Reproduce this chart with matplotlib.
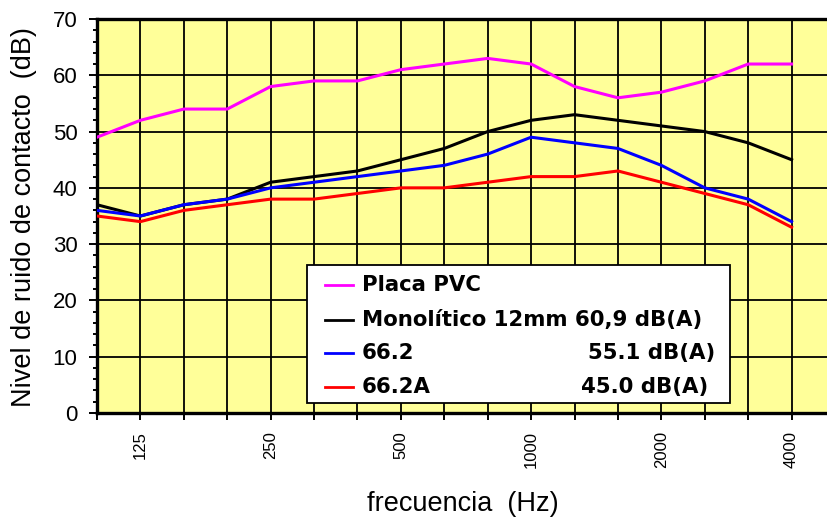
import numpy as np
import matplotlib.pyplot as plt
from matplotlib.ticker import MultipleLocator
from matplotlib.patches import Rectangle
from matplotlib.lines import Line2D

plt.rcParams['font.family'] = ['Liberation Sans', 'DejaVu Sans']

# third-octave bands (Hz)
freqs = [100, 125, 160, 200, 250, 315, 400, 500, 630, 800, 1000,
         1250, 1600, 2000, 2500, 3150, 4000]
labelled = [125, 250, 500, 1000, 2000, 4000]

# contact noise level (dB)
placa_pvc = [49, 52, 54, 54, 58, 59, 59, 61, 62, 63, 62, 58, 56, 57, 59, 62, 62]
monolitico = [37, 35, 37, 38, 41, 42, 43, 45, 47, 50, 52, 53, 52, 51, 50, 48, 45]
v66_2 = [36, 35, 37, 38, 40, 41, 42, 43, 44, 46, 49, 48, 47, 44, 40, 38, 34]
v66_2a = [35, 34, 36, 37, 38, 38, 39, 40, 40, 41, 42, 42, 43, 41, 39, 37, 33]

names = ["Placa PVC", "Monolítico 12mm 60,9 dB(A)", "66.2", "66.2A"]
dba = ["", "", "55.1 dB(A)", "45.0 dB(A)"]
colors = ['#ff00ff', '#000000', '#0000ff', '#ff0000']
data = [placa_pvc, monolitico, v66_2, v66_2a]

W, H = 828, 517
fig = plt.figure(figsize=(W/100, H/100), dpi=100)
ax = fig.add_axes([97/W, 104/H, 738/W, 394/H])
ax.set_facecolor('#ffff99')

x = np.arange(len(freqs))
for vals, col in zip(data, colors):
    ax.plot(x, vals, color=col, lw=2.2, zorder=3)

ax.set_xlim(0, 17)
ax.set_ylim(0, 70)
ax.set_xticks(x)
ax.set_xticklabels([str(f) if f in labelled else '' for f in freqs],
                   rotation=90, fontsize=12)
ax.yaxis.set_major_locator(MultipleLocator(10))
ax.yaxis.set_minor_locator(MultipleLocator(2))
ax.tick_params(axis='y', which='major', labelsize=16, length=6, width=1.4, pad=8)
ax.tick_params(axis='y', which='minor', length=3, width=1.4)
ax.tick_params(axis='x', which='major', length=5, width=1.4, pad=8)
ax.grid(True, which='major', color='black', lw=1.3, zorder=1)
ax.set_axisbelow(True)
for s in ['left', 'bottom', 'top']:
    ax.spines[s].set_linewidth(2.4)
ax.spines['right'].set_visible(False)

fig.text(24/W, 1 - 217/H, "Nivel de ruido de contacto  (dB)", fontsize=19.5,
         rotation=90, ha='center', va='center')
fig.text(463/W, 1 - 504/H, "frecuencia  (Hz)", fontsize=19.5,
         ha='center', va='center')

# legend box
fig.add_artist(Rectangle((307/W, 1 - 403/H), 423/W, 138/H,
                         transform=fig.transFigure, facecolor='white',
                         edgecolor='black', lw=1.3, zorder=5))
rows = [285, 320, 353, 387]
dba_right = [0, 0, 715, 708]
for name, val, col, ry, rx in zip(names, dba, colors, rows, dba_right):
    yy = 1 - ry/H
    fig.add_artist(Line2D([325/W, 353/W], [yy, yy], transform=fig.transFigure,
                          color=col, lw=2.0, zorder=6))
    fig.text(362/W, yy, name, fontsize=15.3, weight='bold', family='DejaVu Sans',
             ha='left', va='center', zorder=6)
    if val:
        fig.text(rx/W, yy, val, fontsize=15.3, weight='bold',
                 family='DejaVu Sans', ha='right', va='center', zorder=6)

fig.savefig('out.png', dpi=100)
